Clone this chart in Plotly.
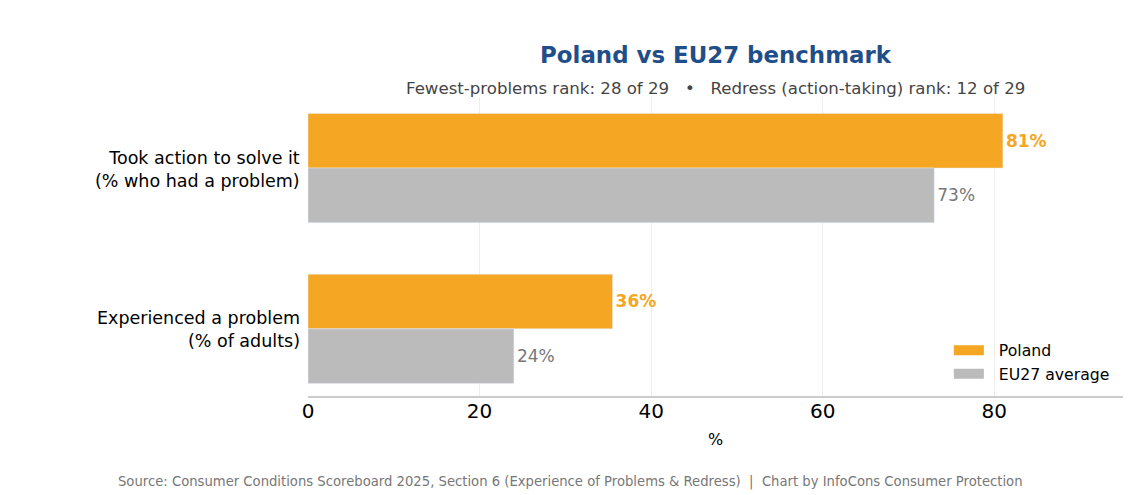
import plotly.graph_objects as go

# categories shown top to bottom
categories = ["Took action to solve it<br>(% who had a problem)",
              "Experienced a problem<br>(% of adults)"]
poland_values = [81.0, 35.5]
eu27_values = [73.0, 24.0]
x_ticks = [0, 20, 40, 60, 80]

ORANGE = "#F5A623"
GREY = "#BBBBBB"
FONT = "DejaVu Sans"

fig = go.Figure()

fig.add_trace(
    go.Bar(
        y=categories,
        x=poland_values,
        name="Poland",
        orientation="h",
        marker=dict(color=ORANGE),
        texttemplate="<b>%{x:.0f}%</b>",
        textposition="outside",
        textfont=dict(color=ORANGE, size=17, family=FONT),
        cliponaxis=False,
        showlegend=False,
    )
)
fig.add_trace(
    go.Bar(
        y=categories,
        x=eu27_values,
        name="EU27 average",
        orientation="h",
        marker=dict(color=GREY),
        texttemplate="%{x:.0f}%",
        textposition="outside",
        textfont=dict(color="#777777", size=17, family=FONT),
        cliponaxis=False,
        showlegend=False,
    )
)

# legend-only entries so the swatches are wide patches
for name, color in [("Poland", ORANGE), ("EU27 average", GREY)]:
    fig.add_trace(
        go.Scatter(
            x=[None],
            y=[None],
            mode="lines",
            name="  " + name,
            line=dict(color=color, width=11),
            hoverinfo="skip",
        )
    )

# category labels drawn as annotations for finer placement
for cat in categories:
    fig.add_annotation(
        text=cat,
        xref="paper",
        yref="y",
        x=0,
        y=cat,
        xanchor="right",
        yanchor="middle",
        xshift=-6,
        yshift=-1,
        align="right",
        showarrow=False,
        font=dict(size=17.5, color="black"),
    )

fig.update_layout(
    width=1124,
    height=487,
    barmode="group",
    bargap=0.32,
    bargroupgap=0,
    paper_bgcolor="white",
    plot_bgcolor="white",
    font=dict(family=FONT, color="black"),
    margin=dict(l=300, r=9, t=89, b=99),
    title=dict(
        text="<b>Poland vs EU27 benchmark</b>",
        x=0.5,
        xref="paper",
        xanchor="center",
        y=0.9035,
        yref="container",
        yanchor="middle",
        font=dict(size=22.9, color="#1F4E89", family=FONT),
    ),
    legend=dict(
        x=0.99,
        y=0.018,
        xanchor="right",
        yanchor="bottom",
        bgcolor="rgba(255,255,255,0)",
        font=dict(size=15.7, family=FONT),
        tracegroupgap=0,
    ),
    xaxis=dict(
        range=[0, 95],
        tickvals=x_ticks,
        tickfont=dict(size=20),
        ticklabelstandoff=-4,
        showgrid=True,
        gridcolor="#EEEEEE",
        showline=True,
        linecolor="#CCCCCC",
        linewidth=2,
        zeroline=False,
        title=dict(text="%", font=dict(size=16), standoff=12),
    ),
    yaxis=dict(
        range=[1.418, -0.442],
        showticklabels=False,
        showgrid=False,
        showline=False,
    ),
)

fig.add_annotation(
    text="Fewest-problems rank: 28 of 29   •   Redress (action-taking) rank: 12 of 29",
    xref="paper",
    yref="paper",
    x=0.5,
    y=1.0,
    yanchor="bottom",
    yshift=-3,
    showarrow=False,
    font=dict(size=16.6, color="#444444"),
)
fig.add_annotation(
    text="Source: Consumer Conditions Scoreboard 2025, Section 6 (Experience of Problems &amp; Redress)  |  Chart by InfoCons Consumer Protection",
    xref="paper",
    yref="paper",
    x=0.3215,
    y=-0.288,
    xanchor="center",
    yanchor="middle",
    showarrow=False,
    font=dict(size=13.2, color="#777777"),
)

fig.write_html("out.html")
